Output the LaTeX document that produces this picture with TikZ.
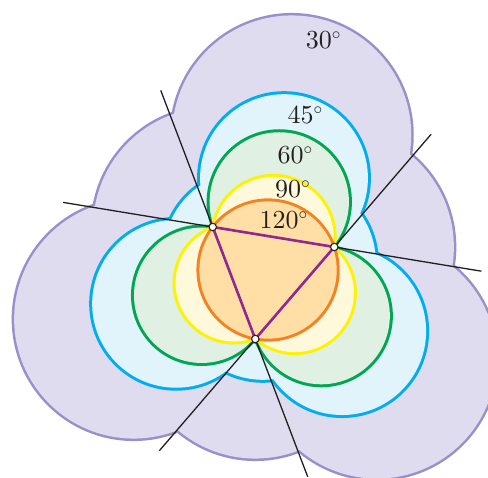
\documentclass[tikz,border=0pt]{standalone}
\usetikzlibrary{calc}
\font\bigten=cmr10 at 26pt
\definecolor{lavfill}{HTML}{DEDCEE}
\definecolor{lavline}{HTML}{9B8FCB}
\definecolor{bluefill}{HTML}{E1F3FB}
\definecolor{blueline}{HTML}{00AEEF}
\definecolor{greenfill}{HTML}{E0F0E3}
\definecolor{greenline}{HTML}{00A651}
\definecolor{yelfill}{HTML}{FFF9DB}
\definecolor{yelline}{HTML}{FFF200}
\definecolor{orfill}{HTML}{FFDFA6}
\definecolor{orline}{HTML}{F58220}
\definecolor{tripurple}{HTML}{92278F}
\definecolor{txt}{HTML}{231F20}
% disks on both sides of segment #1#2 where it subtends angle #3; radius reduced by #4
\newcommand\sidedisks[5]{%
  \path[#5] let \p1=($(#2)-(#1)$), \n1={veclen(\x1,\y1)},
      \n2={\n1/(2*sin(#3))-#4}, \n3={\n1*cos(#3)/(2*sin(#3))} in
    ($(#1)!0.5!(#2)!\n3!90:(#2)$) circle[radius=\n2]
    ($(#1)!0.5!(#2)!-\n3!90:(#2)$) circle[radius=\n2];}
% idealised equilateral version: side P Q, opposite vertex R, factor #4, radius #5
\newcommand\idealdisks[6]{%
  \path[#6] ($(#1)!0.5!(#2)!#4!(#3)$) circle[radius=#5]
            ($(#1)!0.5!(#2)!-#4!(#3)$) circle[radius=#5];}
\newcommand\anglelevel[5]{%
  \foreach \P/\Q in {A/B,B/C,C/A}{\sidedisks{\P}{\Q}{#1}{#4}{draw=#2,line width=#5}}
  \foreach \P/\Q in {A/B,B/C,C/A}{\sidedisks{\P}{\Q}{#1}{#4}{fill=#3}}}
\newcommand\ideallevel[5]{% factor, radius, line colour, fill colour, stroke width
  \foreach \P/\Q/\R in {A/B/C,B/C/A,C/A/B}{\idealdisks{\P}{\Q}{\R}{#1}{#2}{draw=#3,line width=#5}}
  \foreach \P/\Q/\R in {A/B/C,B/C/A,C/A/B}{\idealdisks{\P}{\Q}{\R}{#1}{#2}{fill=#4}}}
\begin{document}
\begin{tikzpicture}[x=1pt,y=-1pt,
  extline/.style={draw=txt,line width=1.3pt},
  triside/.style={draw=tripurple,line width=2.6pt,line join=round},
  vdot/.style={circle,draw=txt,fill=white,line width=1.1pt,inner sep=0pt,minimum size=7.5pt},
  lbl/.style={text=txt,inner sep=0pt,anchor=base west,font=\fontsize{26}{30}\selectfont\bigten}]
\useasboundingbox (0,0) rectangle (488,478);
\clip (0,0) rectangle (488,478);
\coordinate (A) at (212.7,227);
\coordinate (B) at (334.3,247);
\coordinate (C) at (255.3,339);
\coordinate (O) at (268.07,270.04);
% regions
\ideallevel{1}{119.55pt}{lavline}{lavfill}{5pt}
\ideallevel{0.57735}{83.92pt}{blueline}{bluefill}{6pt}
\anglelevel{60}{greenline}{greenfill}{1.5pt}{6pt}
\anglelevel{90}{yelline}{yelfill}{1.5pt}{6pt}
\path[draw=orline,line width=6pt] (O) circle[radius=68.63pt];
\path[fill=orfill] (O) circle[radius=68.63pt];
% extended sides
\coordinate (ab1) at ($(A)!-1.23!(B)$);
\coordinate (ab2) at ($(A)!2.21!(B)$);
\coordinate (ac1) at ($(A)!-1.22!(C)$);
\coordinate (ac2) at ($(A)!2.23!(C)$);
\coordinate (bc1) at ($(B)!-1.225!(C)$);
\coordinate (bc2) at ($(B)!2.215!(C)$);
\draw[extline] (ab1) -- (ab2);
\draw[extline] (ac1) -- (ac2);
\draw[extline] (bc1) -- (bc2);
% triangle
\draw[triside] (A) -- (B) -- (C) -- cycle;
\node[vdot] (dA) at (A) {};
\node[vdot] (dB) at (B) {};
\node[vdot] (dC) at (C) {};
% labels
\node[lbl] (t30) at (305.7,49) {30$^\circ$};
\node[lbl] (t45) at (287.3,124) {45$^\circ$};
\node[lbl] (t60) at (277.3,163.3) {60$^\circ$};
\node[lbl] (t90) at (275,197.3) {90$^\circ$};
\node[lbl] (t120) at (259.4,228.3) {120$^\circ$};
\end{tikzpicture}
\end{document}
